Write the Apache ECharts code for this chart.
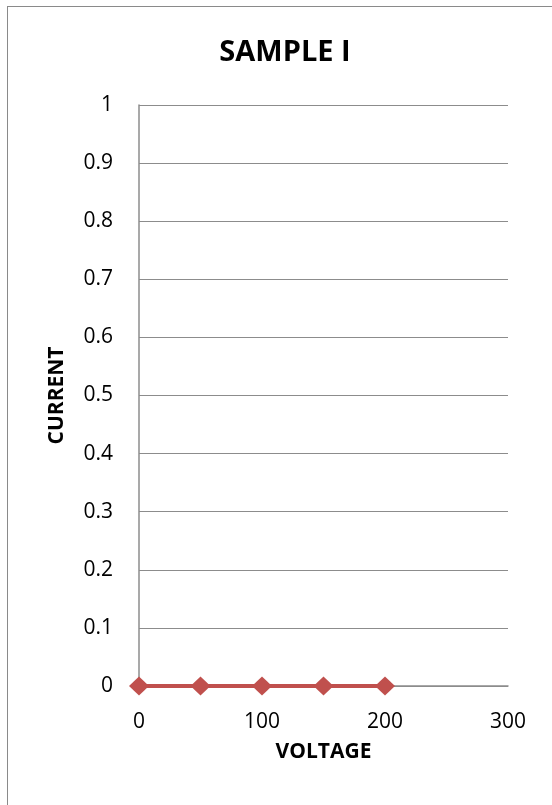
<!DOCTYPE html>
<html><head><meta charset="utf-8">
<script src="https://cdn.jsdelivr.net/npm/echarts@6/dist/echarts.min.js"></script>
<style>
html,body{margin:0;padding:0;background:#fff;}
#frame{position:absolute;left:7px;top:6px;width:560px;height:820px;border:1.5px solid #8a8a8a;box-sizing:border-box;}
#c{position:absolute;left:0;top:0;width:552px;height:805px;}
</style></head>
<body><div id="frame"></div><div id="c"></div>
<script>
const voltage = [0, 50, 100, 150, 200];
const current = [0, 0, 0, 0, 0];
const chart = echarts.init(document.getElementById('c'), null, {renderer:'canvas'});
const font = '"Open Sans", sans-serif';
chart.setOption({
  animation:false,
  backgroundColor:'transparent',
  title:{text:'SAMPLE I', left:280, top:33, textAlign:'center',
    textStyle:{fontFamily:font, fontWeight:'bold', fontSize:29, color:'#000'}},
  grid:{left:139, right:44, top:105, bottom:119, containLabel:false},
  xAxis:{type:'value', min:0, max:300, interval:100,
    name:'VOLTAGE', nameLocation:'middle', nameGap:56,
    nameTextStyle:{fontFamily:font, fontWeight:'bold', fontSize:21, color:'#000'},
    axisLine:{show:true, lineStyle:{color:'#8c8c8c', width:1.5}},
    axisTick:{show:false}, splitLine:{show:false},
    axisLabel:{fontFamily:font, fontSize:21, color:'#000', margin:26}},
  yAxis:{type:'value', min:0, max:1, interval:0.1,
    name:'CURRENT', nameLocation:'middle', nameGap:71, nameRotate:90,
    nameTextStyle:{fontFamily:font, fontWeight:'bold', fontSize:21, color:'#000'},
    axisLine:{show:true, lineStyle:{color:'#8c8c8c', width:1.5}},
    axisTick:{show:false},
    splitLine:{show:true, lineStyle:{color:'#8c8c8c', width:1.2}},
    axisLabel:{fontFamily:font, fontSize:21, color:'#000', margin:26,
      formatter:v=>String(Math.round(v*10)/10)}},
  series:[{type:'line', data:voltage.map((v,i)=>[v,current[i]]),
    symbol:'diamond', symbolSize:[20,19], showSymbol:true,
    lineStyle:{color:'#C0504D', width:4},
    itemStyle:{color:'#C0504D'}}]
});
</script></body></html>
